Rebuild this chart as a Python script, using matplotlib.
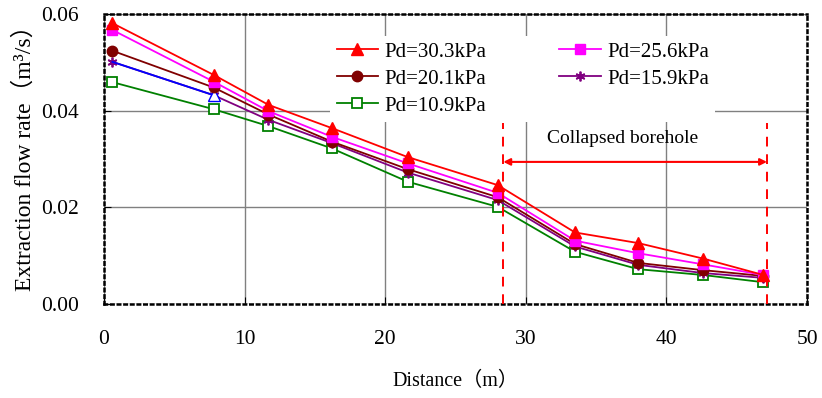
import matplotlib
matplotlib.use("Agg")
import matplotlib.pyplot as plt

plt.rcParams['font.family'] = ['Liberation Serif', 'Noto Sans CJK SC']

# distance along the borehole (m)
distance = [0.6, 7.8, 11.7, 16.2, 21.6, 28.0, 33.5, 38.0, 42.6, 46.9]

# extraction flow rate (m3/s) for each drainage pressure
q_303 = [0.0581, 0.0474, 0.0412, 0.0364, 0.0304, 0.0246, 0.0148, 0.0126, 0.0094, 0.0060]
q_256 = [0.0567, 0.0460, 0.0399, 0.0346, 0.0291, 0.0230, 0.0131, 0.0105, 0.0082, 0.0060]
q_201 = [0.0524, 0.0448, 0.0392, 0.0336, 0.0279, 0.0221, 0.0124, 0.0085, 0.0070, 0.0058]
q_159 = [0.0501, 0.0432, 0.0381, 0.0333, 0.0272, 0.0215, 0.0119, 0.0081, 0.0064, 0.0054]
q_109 = [0.0459, 0.0403, 0.0368, 0.0322, 0.0253, 0.0201, 0.0108, 0.0072, 0.0060, 0.0045]

labels = ['Pd=30.3kPa', 'Pd=25.6kPa', 'Pd=20.1kPa', 'Pd=15.9kPa', 'Pd=10.9kPa']

# collapsed section
collapse_start = 28.4
collapse_end = 47.15

fig = plt.figure(figsize=(8.22, 3.98), dpi=100)
ax = fig.add_axes([0.1265, 0.2362, 0.8553, 0.7286])

ax.set_xlim(0, 50)
ax.set_ylim(0, 0.06)
ax.set_xticks([0, 10, 20, 30, 40, 50])
ax.set_yticks([0, 0.02, 0.04, 0.06])
ax.set_yticklabels(['0.00', '0.02', '0.04', '0.06'])
ax.grid(True, color='#808080', lw=1.0, zorder=0)
ax.set_axisbelow(True)
ax.tick_params(direction='in', length=5, labelsize=15.5, pad=18, color='black')
ax.tick_params(axis='x', pad=19)
for sp in ax.spines.values():
    sp.set_linestyle(':')
    sp.set_linewidth(1.8)

h1, = ax.plot(distance, q_303, color='#FF0000', lw=1.3, marker='^', ms=9, zorder=6)
h2, = ax.plot(distance, q_256, color='#FF00FF', lw=1.3, marker='s', ms=7.5, zorder=5)
h3, = ax.plot(distance, q_201, color='#800000', lw=1.3, marker='o', ms=7.5, zorder=4)
h4, = ax.plot(distance, q_159, color='#800080', lw=1.3, marker=(6, 2, 0), ms=7, mew=1.3, zorder=3)
ax.plot(distance[:2], q_159[:2], color='#0000FF', lw=1.3, marker='^', ms=8, mfc='white',
        mec='#0000FF', markevery=[1], zorder=3.5)
h5, = ax.plot(distance, q_109, color='#008000', lw=1.3, marker='s', ms=7.5, mfc='white',
              mec='#008000', mew=1.3, zorder=2)

leg = ax.legend([h1, h3, h5, h2, h4], [labels[0], labels[2], labels[4], labels[1], labels[3]],
                ncol=2, loc='upper left', bbox_to_anchor=(0.322, 0.925), frameon=True,
                edgecolor='none', facecolor='white', framealpha=1, fancybox=False,
                fontsize=15, handlelength=2.0, handletextpad=0.3, columnspacing=3.5,
                labelspacing=0.36, borderpad=0.3, borderaxespad=0)
leg.set_zorder(2.5)

# collapsed borehole markers
ax.plot([collapse_start, collapse_start], [0, 0.0375], color='red', ls=(0, (5, 4)), lw=1.4, zorder=7)
ax.plot([collapse_end, collapse_end], [0, 0.0375], color='red', ls=(0, (5, 4)), lw=1.4, zorder=7)
ax.annotate('', xy=(collapse_start, 0.0294), xytext=(collapse_end, 0.0294),
            arrowprops=dict(arrowstyle='<|-|>', color='red', lw=1.5, mutation_scale=10,
                            shrinkA=0, shrinkB=0), zorder=7)
ax.text((collapse_start + collapse_end) / 2 - 0.9, 0.0343, 'Collapsed borehole',
        fontsize=14, ha='center', va='center', zorder=7)

ax.set_xlabel('Distance（m）', fontsize=14.5, labelpad=16)
ax.set_ylabel('Extraction flow rate（m³/s）', fontsize=17)
ax.yaxis.set_label_coords(-0.097, 0.522)

fig.savefig('out.png', dpi=100)
